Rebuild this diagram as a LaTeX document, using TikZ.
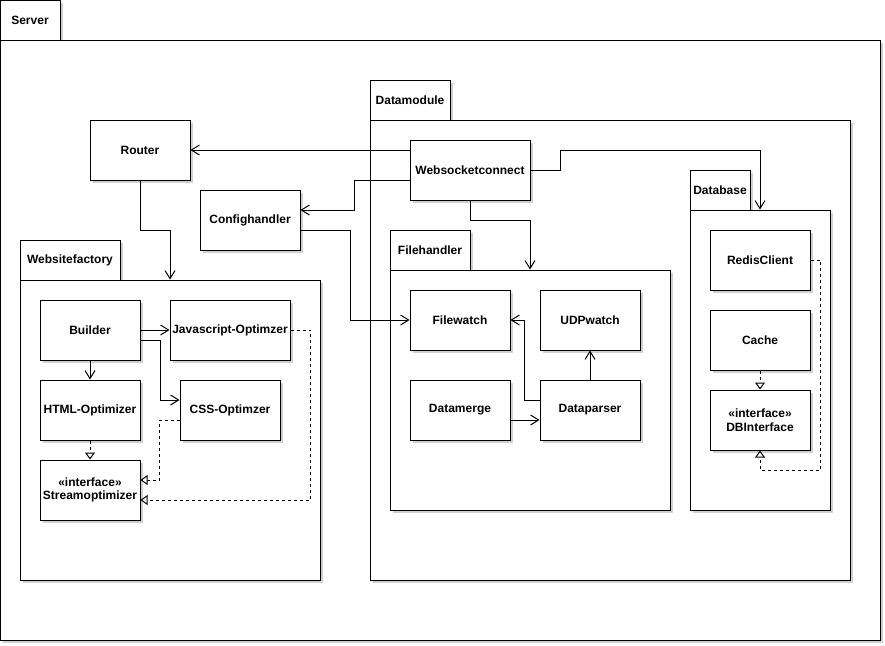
\documentclass[tikz,border=0pt]{standalone}
\usepackage{fontspec}
\setmainfont{Liberation Sans}
\usepackage{xcolor}
\definecolor{ShadowGrey}{HTML}{CFCFCF}
\definecolor{LineBlack}{HTML}{000000}
\usepackage{tikz}
\usetikzlibrary{arrows.meta, shadows}
\tikzstyle{cls} = [rectangle, draw=LineBlack, fill=white, line width=1pt, minimum width=100pt, minimum height=60pt, align=center, inner sep=1pt, font=\fontsize{12}{13.5}\selectfont\bfseries, drop shadow={shadow xshift=3pt, shadow yshift=-3pt, fill=ShadowGrey, opacity=1}]
\tikzstyle{pkg} = [cls]
\tikzstyle{pkgtab} = [cls, minimum height=40pt]
\tikzstyle{dep} = [line width=1pt, draw=LineBlack, -{Straight Barb[length=8pt, width=10pt]}]
\tikzstyle{impl} = [line width=1pt, draw=LineBlack, dash pattern=on 3pt off 3pt, -{Triangle[open, length=7pt, width=10pt, fill=white]}]

\begin{document}
\begin{tikzpicture}[x=1pt, y=-1pt]
        \useasboundingbox (0,0) rectangle (885,645);

        % Packages
        \node [pkgtab, minimum width=60pt] (servertab) at (30,20) {Server};
        \node [pkg, minimum width=880pt, minimum height=600pt] (server) at (440,340) {};

        \node [pkgtab, minimum width=100pt] (websitefactorytab) at (70,260) {Websitefactory};
        \node [pkg, minimum width=300pt, minimum height=300pt] (websitefactory) at (170,430) {};

        \node [pkgtab, minimum width=80pt] (datamoduletab) at (410,100) {Datamodule};
        \node [pkg, minimum width=480pt, minimum height=460pt] (datamodule) at (610,350) {};

        \node [pkgtab, minimum width=80pt] (filehandlertab) at (430,250) {Filehandler};
        \node [pkg, minimum width=280pt, minimum height=240pt] (filehandler) at (530,390) {};

        \node [pkgtab, minimum width=60pt] (databasetab) at (720,190) {Database};
        \node [pkg, minimum width=140pt, minimum height=300pt] (database) at (760,360) {};

        % Classes
        \node [cls] (router) at (140,150) {Router};
        \node [cls] (confighandler) at (250,220) {Confighandler};

        \node [cls] (builder) at (90,330) {Builder};
        \node [cls, minimum width=120pt] (jsopt) at (230,330) {Javascript-Optimzer};
        \node [cls] (htmlopt) at (90,410) {HTML-Optimizer};
        \node [cls] (cssopt) at (230,410) {CSS-Optimzer};
        \node [cls] (streamopt) at (90,490) {«interface»\\Streamoptimizer};

        \node [cls, minimum width=120pt] (websocket) at (470,170) {Websocketconnect};
        \node [cls] (filewatch) at (460,320) {Filewatch};
        \node [cls] (udpwatch) at (590,320) {UDPwatch};
        \node [cls] (datamerge) at (460,410) {Datamerge};
        \node [cls] (dataparser) at (590,410) {Dataparser};

        \node [cls] (redis) at (760,260) {RedisClient};
        \node [cls] (cache) at (760,340) {Cache};
        \node [cls] (dbiface) at (760,420) {«interface»\\DBInterface};

        % Dependencies
        \draw [dep] (websocket.west |- router) -- (router);
        \draw [dep] ([yshift=-10pt]websocket.west) -- ++(-55,0) |- ([yshift=10pt]confighandler.east);
        \draw [dep] (websocket.east) -| ++(30,-20) -| (database.north);
        \draw [dep] (websocket.south) -- ++(0,20) -| (filehandler.north);
        \draw [dep] (router.south) -- ++(0,50) -| (websitefactory.north);
        \draw [dep] ([yshift=-10pt]confighandler.east) -- ++(50,0) |- (filewatch.west);

        \draw [dep] (builder) -- (jsopt);
        \draw [dep] ([yshift=-10pt]builder.east) -- ++(20,0) |- ([yshift=10pt]cssopt.west);
        \draw [dep] (builder) -- (htmlopt);

        \draw [dep] ([yshift=10pt]dataparser.west) -- ++(-15,0) |- (filewatch.east);
        \draw [dep] ([yshift=-10pt]datamerge.east) -- ([yshift=-10pt]dataparser.west);
        \draw [dep] (dataparser) -- (udpwatch);

        % Realizations
        \draw [impl] (htmlopt) -- (streamopt);
        \draw [impl] ([yshift=-10pt]cssopt.west) -- ++(-20,0) |- ([yshift=10pt]streamopt.east);
        \draw [impl] (jsopt.east) -- ++(20,0) |- ([yshift=-10pt]streamopt.east);
        \draw [impl] (redis.east) -| ++(10,210) -| (dbiface.south);
        \draw [impl] (cache) -- (dbiface);
    \end{tikzpicture}
\end{document}
